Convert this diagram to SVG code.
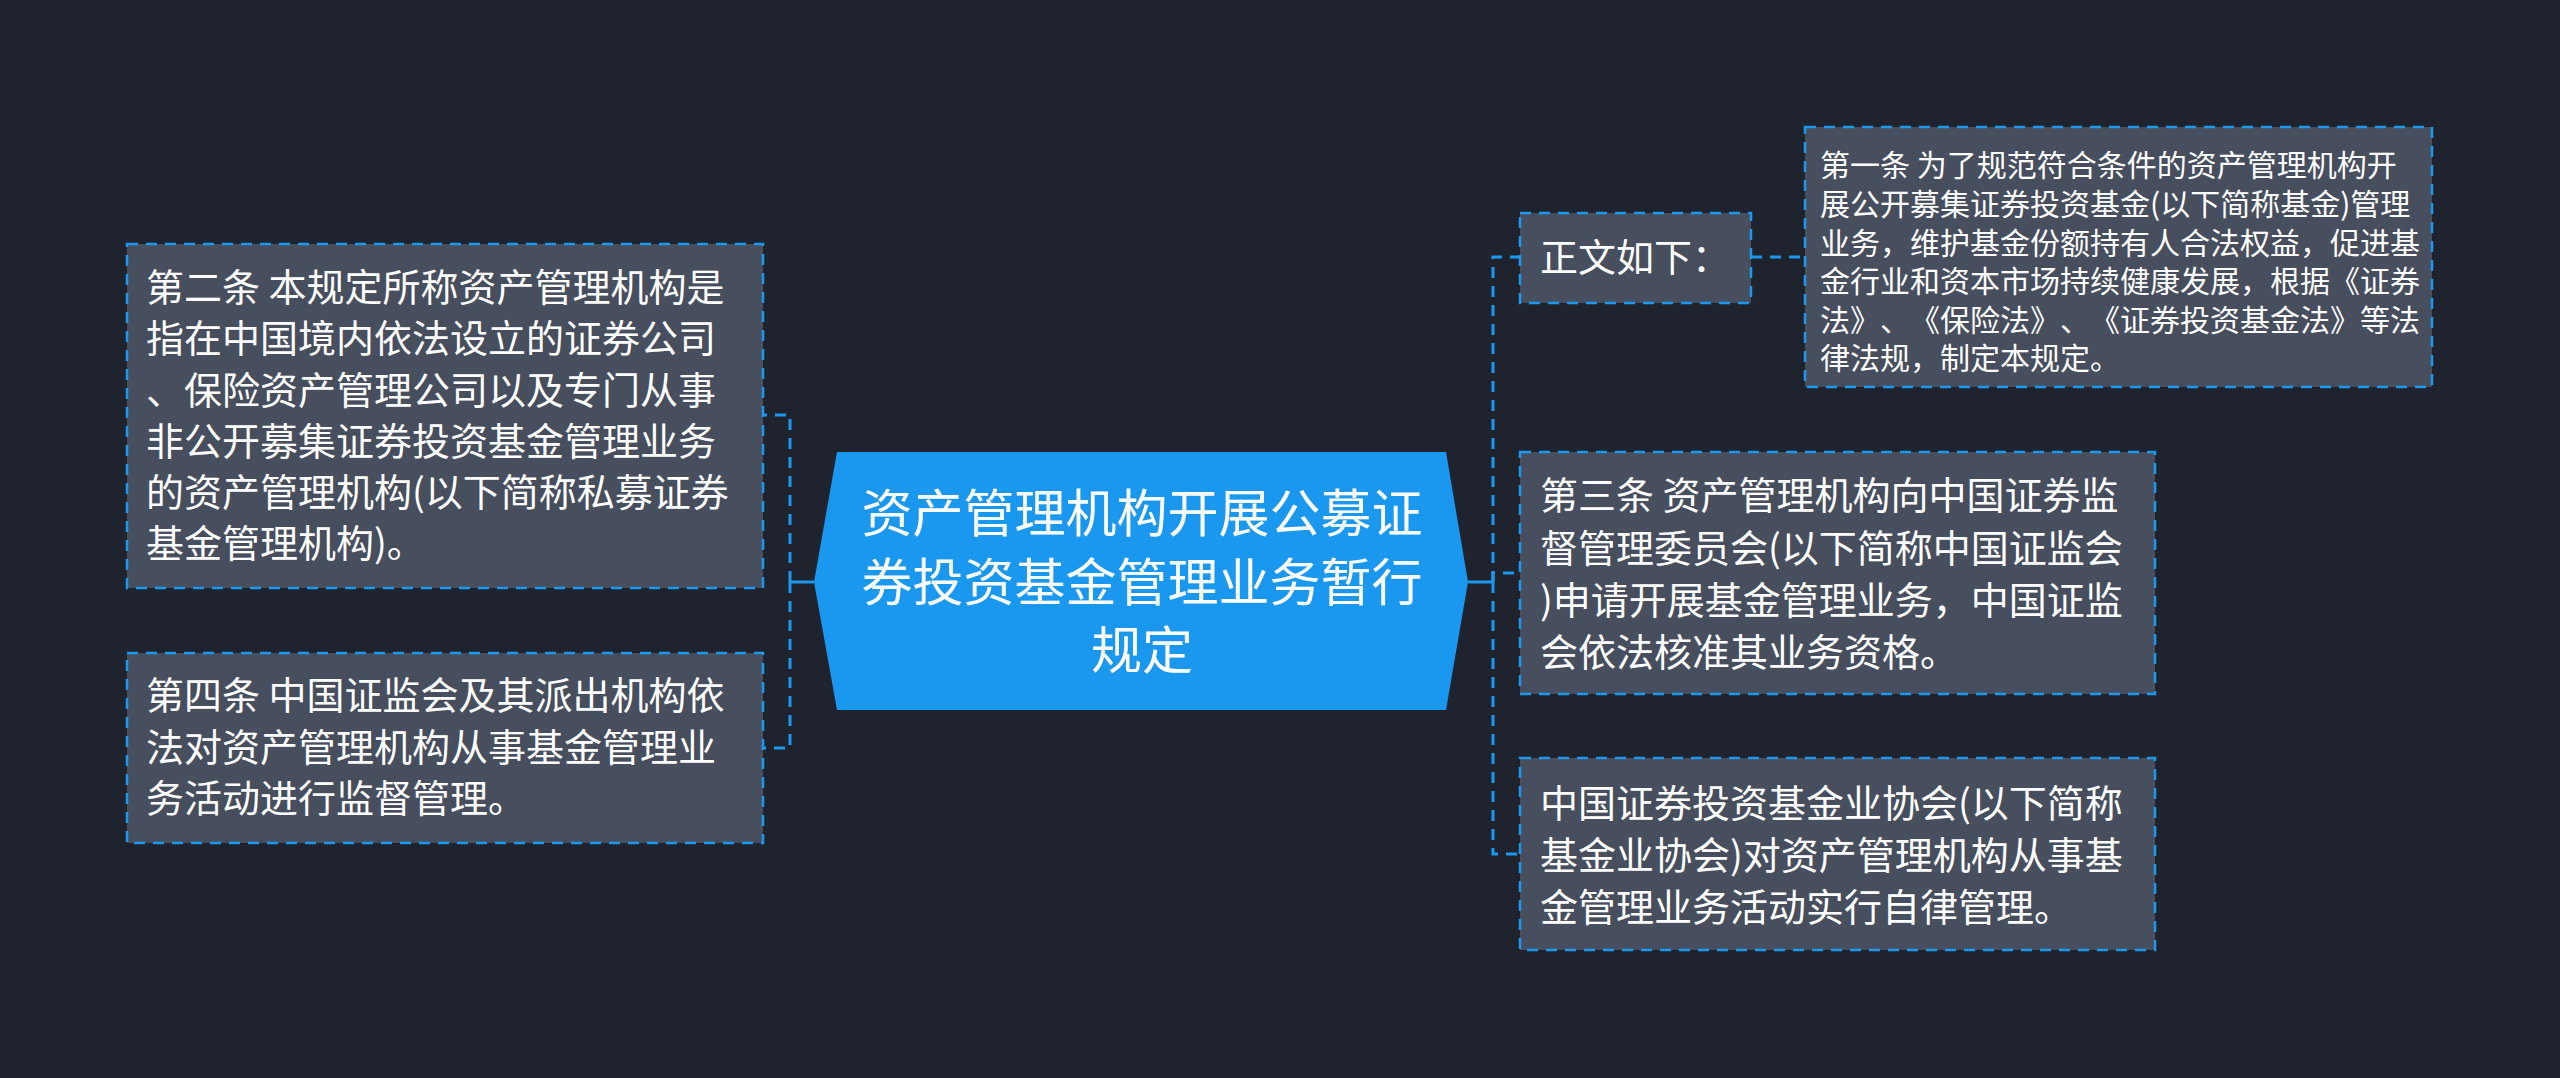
<svg xmlns="http://www.w3.org/2000/svg" width="2560" height="1078" viewBox="0 0 2560 1078">
<style>
.bg{fill:#1f232e}
.box{fill:#474e5d;stroke:#1b98ef;stroke-width:2.5;stroke-dasharray:11 8}
.t{font-family:"Noto Sans CJK SC","Noto Sans",sans-serif;fill:#ffffff;text-spacing-trim:space-all}
.m{font-size:38px}
.s{font-size:30px}
.c{font-size:51px;text-anchor:middle}
.ln{fill:none;stroke:#1b98ef;stroke-width:3;stroke-dasharray:11 8}
.sl{fill:none;stroke:#1b98ef;stroke-width:3}
</style>
<rect class="bg" x="0" y="0" width="2560" height="1078"/>
<g id="connectors">
<path class="sl" d="M790 582 H814"/>
<path class="ln" d="M790 582 V415 H763"/>
<path class="ln" d="M790 582 V748 H763"/>
<path class="sl" d="M1468 582 H1493"/>
<path class="ln" d="M1493 582 V257 H1520"/>
<path class="ln" d="M1493 582 V573 H1520"/>
<path class="ln" d="M1493 582 V854 H1520"/>
<path class="ln" d="M1751 257 H1805"/>
</g>
<g id="center">
<polygon points="837,452 1446,452 1468,582 1446,710 837,710 814,582" fill="#1a98f0"/>
<text class="t c" x="1142" y="532">资产管理机构开展公募证</text>
<text class="t c" x="1142" y="601">券投资基金管理业务暂行</text>
<text class="t c" x="1142" y="669">规定</text>
</g>
<g id="node-art2">
<rect class="box" x="127" y="244" width="636" height="344"/>
<text class="t m" x="146" y="301">第二条 本规定所称资产管理机构是</text>
<text class="t m" x="146" y="352">指在中国境内依法设立的证券公司</text>
<text class="t m" x="146" y="404">、保险资产管理公司以及专门从事</text>
<text class="t m" x="146" y="455">非公开募集证券投资基金管理业务</text>
<text class="t m" x="146" y="506">的资产管理机构(以下简称私募证券</text>
<text class="t m" x="146" y="557">基金管理机构)。</text>
</g>
<g id="node-art4">
<rect class="box" x="127" y="653" width="636" height="190"/>
<text class="t m" x="146" y="709">第四条 中国证监会及其派出机构依</text>
<text class="t m" x="146" y="761">法对资产管理机构从事基金管理业</text>
<text class="t m" x="146" y="812">务活动进行监督管理。</text>
</g>
<g id="node-intro">
<rect class="box" x="1520" y="213" width="231" height="90"/>
<text class="t m" x="1540" y="271">正文如下：</text>
</g>
<g id="node-art1">
<rect class="box" x="1805" y="127" width="627" height="260"/>
<text class="t s" x="1820" y="176">第一条 为了规范符合条件的资产管理机构开</text>
<text class="t s" x="1820" y="215">展公开募集证券投资基金(以下简称基金)管理</text>
<text class="t s" x="1820" y="254">业务，维护基金份额持有人合法权益，促进基</text>
<text class="t s" x="1820" y="292">金行业和资本市场持续健康发展，根据《证券</text>
<text class="t s" x="1820" y="331">法》、《保险法》、《证券投资基金法》等法</text>
<text class="t s" x="1820" y="369">律法规，制定本规定。</text>
</g>
<g id="node-art3">
<rect class="box" x="1520" y="452" width="635" height="242"/>
<text class="t m" x="1540" y="509">第三条 资产管理机构向中国证券监</text>
<text class="t m" x="1540" y="562">督管理委员会(以下简称中国证监会</text>
<text class="t m" x="1540" y="614">)申请开展基金管理业务，中国证监</text>
<text class="t m" x="1540" y="666">会依法核准其业务资格。</text>
</g>
<g id="node-assoc">
<rect class="box" x="1520" y="758" width="635" height="192"/>
<text class="t m" x="1540" y="817">中国证券投资基金业协会(以下简称</text>
<text class="t m" x="1540" y="869">基金业协会)对资产管理机构从事基</text>
<text class="t m" x="1540" y="921">金管理业务活动实行自律管理。</text>
</g>
</svg>
